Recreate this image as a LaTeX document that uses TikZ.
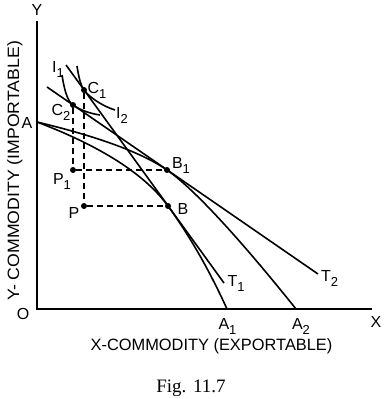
\documentclass[tikz,border=0pt]{standalone}
\usepackage{graphicx}
\usepackage{fontspec}
\setmainfont{Liberation Sans}
\newfontfamily\figfont{Liberation Serif}
\newcommand{\sbs}[1]{\raisebox{-5pt}{\fontsize{13}{13}\selectfont #1}}
\begin{document}
\begin{tikzpicture}[x=1pt,y=-1pt,
  axisline/.style={line width=1.9pt, line join=miter},
  curve/.style={line width=1.6pt},
  guide/.style={line width=1.4pt, dash pattern=on 6pt off 4pt},
  dot/.style={circle, fill=black, inner sep=0pt, minimum size=6pt},
  lbl/.style={inner sep=0pt, font=\fontsize{16}{16}\selectfont},
  title/.style={inner sep=0pt, font=\fontsize{16.4}{16.4}\selectfont}]
\useasboundingbox (0,0) rectangle (384,399);
% key points
\coordinate (Ytop) at (37,21);
\coordinate (O) at (37,309);
\coordinate (Xend) at (372,309);
\coordinate (A) at (37,122);
\coordinate (A1) at (227,309);
\coordinate (A2) at (296,309);
\coordinate (T1s) at (66,65);
\coordinate (T1e) at (224,283);
\coordinate (T2s) at (47,87);
\coordinate (T2e) at (318,274);
\coordinate (I1s) at (62,75);
\coordinate (I1e) at (100,115);
\coordinate (I2s) at (77,66);
\coordinate (I2e) at (115,110);
% dots
\node[dot] (C1) at (84,90) {};
\node[dot] (C2) at (73,105) {};
\node[dot] (B) at (168,206) {};
\node[dot] (B1) at (167,170) {};
\node[dot] (P) at (84,206) {};
\node[dot] (P1) at (73,170) {};
% axes
\draw[axisline] (Ytop) -- (O) -- (Xend);
% production possibility curves
\draw[curve] (A) .. controls (101.5,146.5) and (145,174.5) .. (B.center)
  .. controls (189.8,236.1) and (209.5,270.5) .. (A1);
\draw[curve] (A) .. controls (98.9,136.8) and (142.2,152.9) .. (B1.center)
  .. controls (192,187.3) and (236,234) .. (A2);
% price lines
\draw[curve] (T1s) -- (T1e);
\draw[curve] (T2s) -- (T2e);
% indifference curves
\draw[curve] (I1s) .. controls (64,88) and (67,100.9) .. (C2.center)
  .. controls (81,110.5) and (90,113.5) .. (I1e);
\draw[curve] (I2s) .. controls (78.5,76) and (80.5,85.2) .. (C1.center)
  .. controls (89,96.9) and (102,106) .. (I2e);
% dashed guides
\draw[guide] (C1) -- (P);
\draw[guide] (C2) -- (P1);
\draw[guide] (P) -- (B);
\draw[guide] (P1) -- (B1);
% labels
\node[lbl] (lY) at (37,10) {Y};
\node[lbl] (lO) at (23,314) {O};
\node[lbl] (lX) at (376,322) {X};
\node[lbl] (lA) at (27,123) {A};
\node[lbl] (lA1) at (227.5,326.5) {A\sbs{1}};
\node[lbl] (lA2) at (301,326.5) {A\sbs{2}};
\node[lbl] (lT1) at (236,283.5) {T\sbs{1}};
\node[lbl] (lT2) at (329.5,278.5) {T\sbs{2}};
\node[lbl] (lB1) at (181,165.5) {B\sbs{1}};
\node[lbl] (lB) at (183,209) {B};
\node[lbl] (lP) at (74,212.5) {P};
\node[lbl] (lP1) at (62,181.5) {P\sbs{1}};
\node[lbl] (lC1) at (97,90) {C\sbs{1}};
\node[lbl] (lC2) at (61,112) {C\sbs{2}};
\node[lbl] (lI1) at (58,69) {I\sbs{1}};
\node[lbl] (lI2) at (122,115) {I\sbs{2}};
\node[title, rotate=90] (ylab) at (15,171) {\scalebox{1.078}[1]{Y- COMMODITY (IMPORTABLE)}};
\node[title] (xlab) at (211.5,346) {X-COMMODITY (EXPORTABLE)};
\node[inner sep=0pt, anchor=base, font=\figfont\fontsize{19}{19}\selectfont] (fig) at (191,392) {Fig.\hspace{0.35em}11.7};
\end{tikzpicture}
\end{document}
